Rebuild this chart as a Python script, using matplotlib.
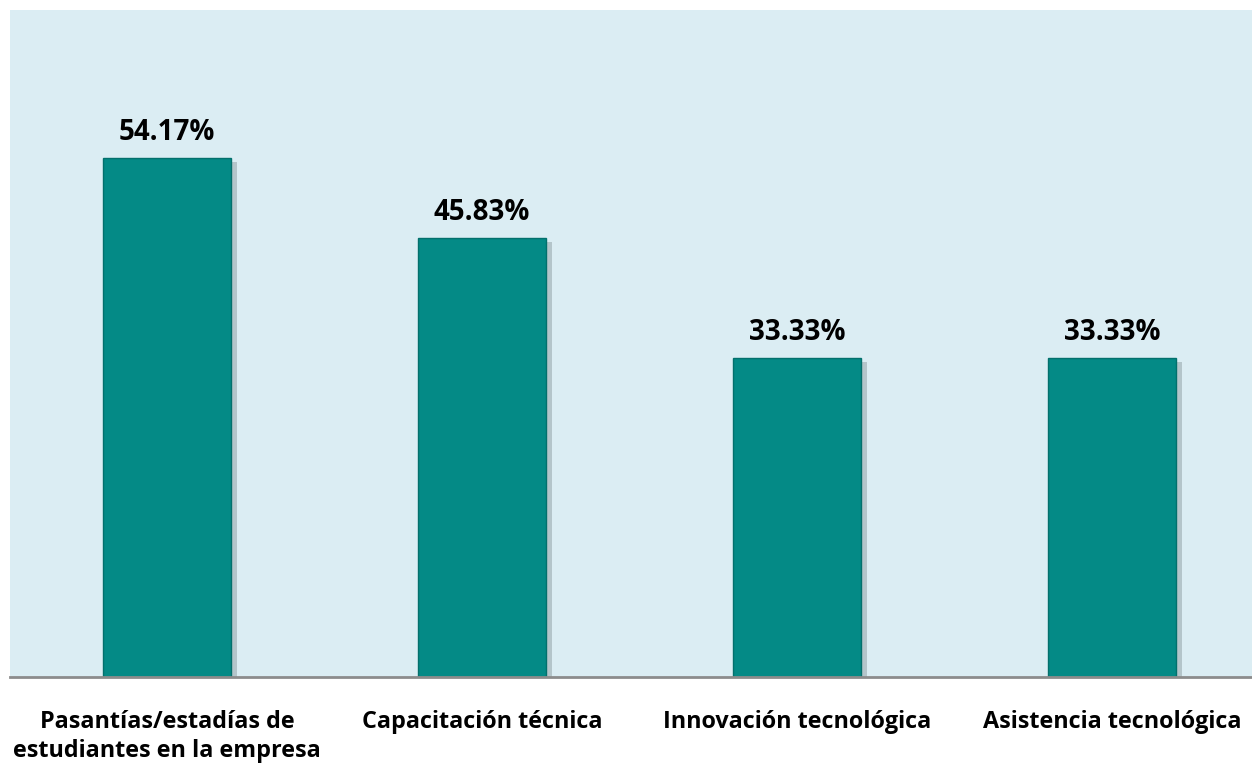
import matplotlib.pyplot as plt
import matplotlib.patheffects as pe

categories = ["Pasantías/estadías de\nestudiantes en la empresa",
              "Capacitación técnica",
              "Innovación tecnológica",
              "Asistencia tecnológica"]
values = [54.17, 45.83, 33.33, 33.33]
value_labels = ["54.17%", "45.83%", "33.33%", "33.33%"]

W, H = 1252, 766
fig = plt.figure(figsize=(W / 100, H / 100), dpi=100)
fig.patch.set_facecolor("white")

# axes run off the right edge a bit, like the original
left, right = 9.5, 1269.5
top, bottom = 10, 677
ax = fig.add_axes([left / W, 1 - bottom / H, (right - left) / W, (bottom - top) / H])
ax.set_facecolor("#dbedf3")

x = range(len(categories))
bars = ax.bar(x, values, width=0.406, color="#048a86", edgecolor="#03706c",
              linewidth=1.0, zorder=3)
for b in bars:
    b.set_path_effects([pe.SimplePatchShadow(offset=(4, -3), shadow_rgbFace="#7a8a8e", alpha=0.4),
                        pe.Normal()])

ax.set_xlim(-0.5, 3.5)
ax.set_ylim(0, 69.65)

for i, (v, lab) in enumerate(zip(values, value_labels)):
    ax.text(i, v + 1.9, lab, ha="center", va="baseline", fontsize=20,
            fontweight="bold", family="Open Sans", color="black")

for s in ["top", "right", "left"]:
    ax.spines[s].set_visible(False)
ax.spines["bottom"].set_color("#8c8c8c")
ax.spines["bottom"].set_linewidth(2)
ax.spines["bottom"].set_zorder(4)
ax.set_yticks([])
ax.set_xticks(list(x))
ax.set_xticklabels(categories, fontsize=16.8, fontweight="bold", family="Open Sans",
                   linespacing=1.28, va="top")
ax.tick_params(axis="x", length=0, pad=24)

fig.savefig("out.png", dpi=100)
